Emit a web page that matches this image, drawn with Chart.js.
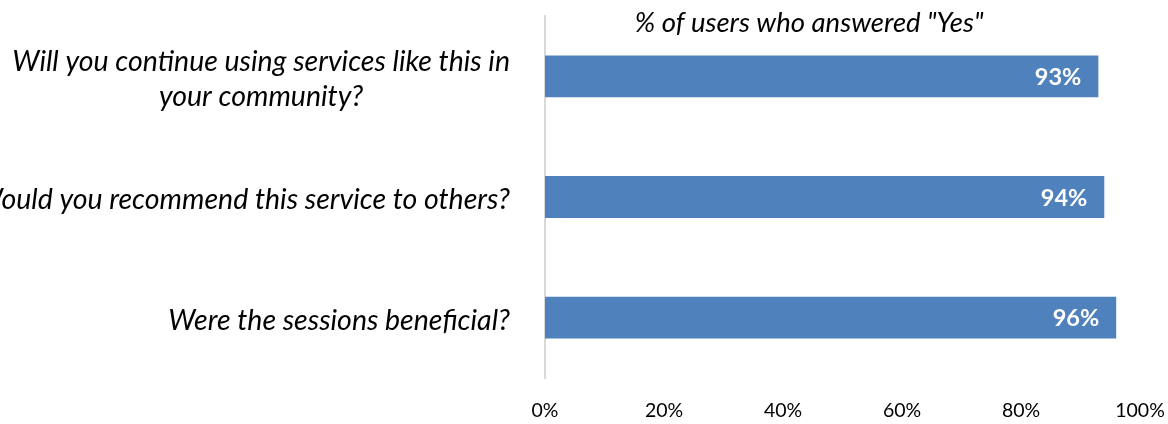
<!DOCTYPE html>
<html>
<head>
<meta charset="utf-8">
<script src="https://cdn.jsdelivr.net/npm/chart.js@4"></script>
<style>
  html, body { margin: 0; padding: 0; background: #ffffff; }
  #wrap { width: 1168px; height: 424px; }
</style>
</head>
<body>
<div id="wrap"><canvas id="c" width="1168" height="424"></canvas></div>
<script>
// Survey questions (each line of a wrapped question is its own entry)
const questions = [
  ["Will you continue using services like this in", "your community?"],
  ["Would you recommend this service to others?"],
  ["Were the sessions beneficial?"]
];
// Share of users answering "Yes", in percent
const yesShare = [93, 94, 96];
// Horizontal axis ticks, in percent
const axisTicks = [0, 20, 40, 60, 80, 100];
const chartTitle = '% of users who answered "Yes"';

const FONT = "Lato, 'Open Sans', sans-serif";
const BAR_BLUE = "#4F81BD";

// Draws the wrapped question labels beside each bar: block right-aligned, lines centred
const questionLabels = {
  id: "questionLabels",
  afterDraw(chart) {
    const ctx = chart.ctx;
    const yScale = chart.scales.y;
    const rightEdge = chart.chartArea.left - 35;
    const lineH = 35;
    ctx.save();
    ctx.font = "italic 28.5px " + FONT;
    ctx.fillStyle = "#000000";
    ctx.textBaseline = "middle";
    ctx.textAlign = "center";
    questions.forEach((lines, i) => {
      const cy = yScale.getPixelForTick(i) + 3;
      const widest = Math.max(...lines.map(l => ctx.measureText(l).width));
      const cx = rightEdge - widest / 2;
      const top = cy - (lines.length - 1) * lineH / 2;
      lines.forEach((l, k) => ctx.fillText(l, cx, top + k * lineH));
    });
    ctx.restore();
  }
};

// Value labels inside the end of each bar, plus the heading above the plot
const valueLabels = {
  id: "valueLabels",
  afterDatasetsDraw(chart) {
    const ctx = chart.ctx;
    const meta = chart.getDatasetMeta(0);
    ctx.save();
    ctx.font = "bold 23.5px " + FONT;
    ctx.fillStyle = "#ffffff";
    ctx.textAlign = "right";
    ctx.textBaseline = "middle";
    meta.data.forEach((bar, i) => {
      ctx.fillText(chart.data.datasets[0].data[i] + "%", bar.x - 17, bar.y + 1);
    });
    ctx.font = "italic 27.5px " + FONT;
    ctx.fillStyle = "#000000";
    ctx.textAlign = "center";
    const area = chart.chartArea;
    ctx.fillText(chartTitle, area.left + (area.right - area.left) * 0.444, 23);
    ctx.restore();
  }
};

new Chart(document.getElementById("c"), {
  type: "bar",
  data: {
    labels: questions,
    datasets: [{
      data: yesShare,
      backgroundColor: BAR_BLUE,
      borderWidth: 0,
      categoryPercentage: 1.0,
      barPercentage: 0.347
    }]
  },
  options: {
    indexAxis: "y",
    responsive: false,
    devicePixelRatio: 1,
    animation: false,
    layout: { padding: { left: 545, right: 0, top: 16, bottom: 0 } },
    plugins: {
      legend: { display: false },
      tooltip: { enabled: false },
      title: { display: false }
    },
    scales: {
      x: {
        min: 0,
        max: 100,
        afterBuildTicks(scale) { scale.ticks = axisTicks.map(v => ({ value: v })); },
        afterFit(scale) {
          scale.height = 46;
          scale.paddingLeft = 0;
          scale.paddingRight = 28;
        },
        grid: { display: false, drawTicks: false },
        border: { display: false },
        ticks: {
          color: "#000000",
          padding: 21,
          maxRotation: 0,
          font: { family: FONT, size: 19.5 },
          callback: v => v + "%"
        }
      },
      y: {
        grid: { display: false, drawTicks: false },
        border: { display: true, color: "#D9D9D9", width: 2 },
        ticks: { display: false }
      }
    }
  },
  plugins: [questionLabels, valueLabels]
});
</script>
</body>
</html>
